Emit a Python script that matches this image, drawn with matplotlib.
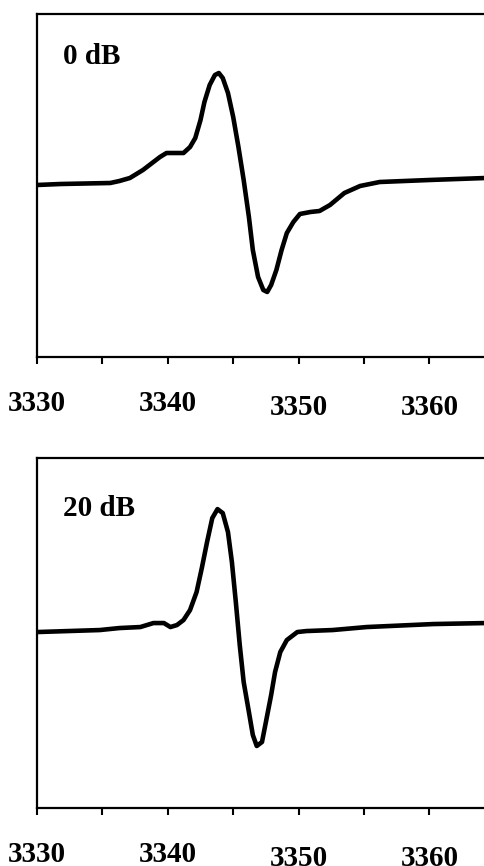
import matplotlib
import matplotlib.pyplot as plt

matplotlib.use('Agg')

# magnetic field (G) and signal (a.u.)
field_0db = [3330.0, 3331.8, 3335.6, 3336.3, 3337.1, 3338.1, 3339.4, 3339.9, 3341.2,
             3341.7, 3342.1, 3342.5, 3342.8, 3343.2, 3343.6, 3343.9, 3344.2, 3344.6,
             3345.0, 3345.4, 3345.8, 3346.2, 3346.5, 3346.9, 3347.3, 3347.6, 3347.9,
             3348.3, 3348.7, 3349.1, 3349.6, 3350.1, 3350.9, 3351.6, 3352.4, 3353.5,
             3354.7, 3356.2, 3360.0, 3364.3]
signal_0db = [172, 173, 174, 176, 179, 187, 200, 204, 204,
              210, 219, 237, 255, 272, 282, 284, 279, 264,
              240, 210, 177, 140, 107, 80, 67, 65, 72,
              87, 107, 124, 135, 143, 145, 146, 152, 164,
              171, 175, 177, 179]

field_20db = [3330.0, 3334.8, 3336.3, 3337.9, 3338.9, 3339.7, 3340.2, 3340.7, 3341.2,
              3341.7, 3342.2, 3342.6, 3343.0, 3343.4, 3343.8, 3344.2, 3344.6, 3344.9,
              3345.2, 3345.5, 3345.8, 3346.2, 3346.5, 3346.8, 3347.2, 3347.5, 3347.9,
              3348.2, 3348.6, 3349.1, 3349.9, 3350.6, 3352.6, 3355.2, 3360.3, 3364.3]
signal_20db = [176, 178, 180, 181, 185, 185, 181, 183, 188,
               198, 216, 240, 266, 290, 299, 295, 276, 246,
               206, 163, 126, 96, 73, 62, 66, 86, 113,
               136, 156, 168, 176, 177, 178, 181, 184, 185]

tick_pos = [3330, 3335, 3340, 3345, 3350, 3355, 3360, 3365]
tick_lab = ['3330', '', '3340', '', '3350', '', '3360', '']

serif = ['Liberation Serif', 'DejaVu Serif']

fig = plt.figure(figsize=(4.85, 8.66), dpi=100)


def panel(rect, x, y, label, ylim, label_y):
    ax = fig.add_axes(rect)
    ax.plot(x, y, color='black', lw=3.3, solid_joinstyle='round', solid_capstyle='round')
    ax.set_yticks([])
    ax.set_xticks(tick_pos)
    ax.set_xticklabels(tick_lab, family=serif, fontsize=21, fontweight='bold')
    ax.set_xlim(3330, 3364.25)
    ax.set_ylim(*ylim)
    ax.tick_params(axis='x', direction='out', length=5, width=1.5, pad=19)
    for i in (4, 6):
        ax.xaxis.get_major_ticks()[i].set_pad(22)
    ax.spines['right'].set_visible(False)
    for s in ('left', 'top', 'bottom'):
        ax.spines[s].set_linewidth(1.6)
    ax.text(0.058, label_y, label, transform=ax.transAxes, family=serif,
            fontsize=21, fontweight='bold', va='center', ha='left')
    return ax


panel([0.0763, 0.5878, 0.9237, 0.396], field_0db, signal_0db, '0 dB', (0, 343), 0.875)
panel([0.0763, 0.0670, 0.9237, 0.404], field_20db, signal_20db, '20 dB', (0, 350), 0.857)

fig.savefig('out.png', dpi=100)
